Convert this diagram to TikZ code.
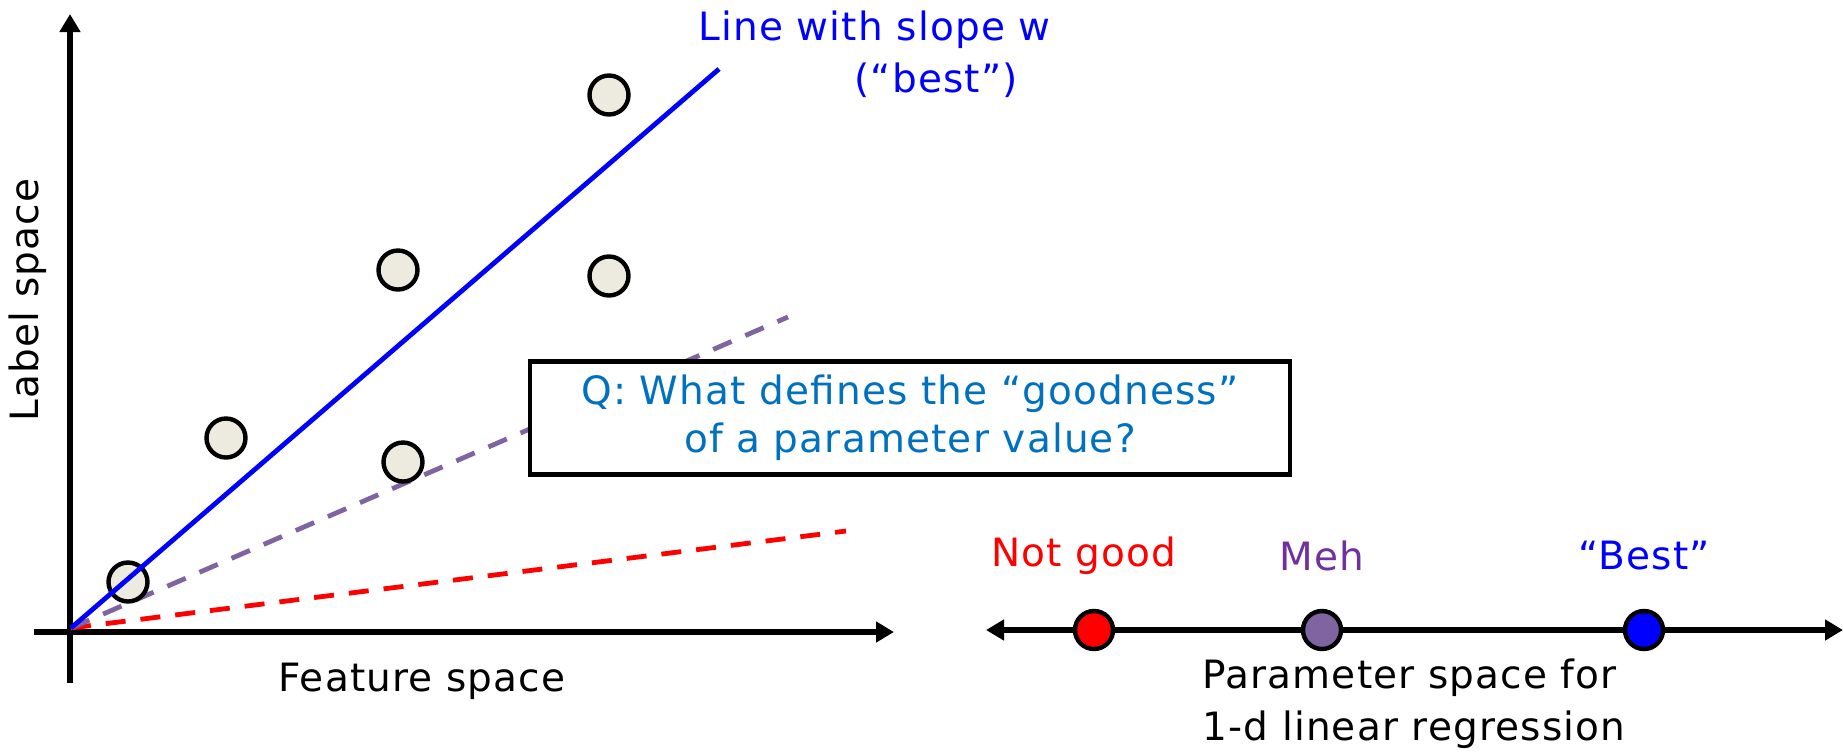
\documentclass[tikz,border=0pt]{standalone}
\usepackage{fontspec}
\setmainfont[LetterSpace=3]{DejaVu Sans}
\usetikzlibrary{arrows.meta}
\definecolor{dotfill}{HTML}{EDEBE0}
\definecolor{mehpurple}{HTML}{8064A2}
\definecolor{mehtext}{HTML}{7030A0}
\definecolor{qblue}{HTML}{0070C0}
\tikzset{
  axis/.style={line width=3pt, -{Triangle[length=9pt,width=10pt]}},
  datapt/.style={circle, draw=black, line width=2.2pt, fill=dotfill, minimum size=19.5pt, inner sep=0pt},
  parampt/.style={circle, draw=black, line width=2.2pt, minimum size=19pt, inner sep=0pt},
  lbl/.style={font=\fontsize{19.5}{23}\selectfont, inner sep=0pt},
  dashline/.style={line width=2.4pt, dash pattern=on 10pt off 7.5pt},
}
\begin{document}
\begin{tikzpicture}[x=0.5pt,y=-0.5pt]
\useasboundingbox (0,0) rectangle (1844,752);
% axes
\coordinate (ybot) at (70,683);
\coordinate (ytop) at (70,14);
\coordinate (xleft) at (34,632);
\coordinate (xright) at (894,632);
\coordinate (o) at (71,628);
\draw[axis] (ybot) -- (ytop);
\draw[axis] (xleft) -- (xright);
% candidate lines
\coordinate (redend) at (846,531);
\coordinate (purend) at (788,317);
\coordinate (blueend) at (719,69);
\draw[dashline, red] (o) -- (redend);
\draw[dashline, mehpurple] (o) -- (purend);
% question box
\node[draw=black, line width=2.2pt, fill=white, minimum width=380pt, minimum height=56.5pt, inner sep=0pt, lbl, text=qblue, align=center] (qbox) at (910,418)
  {Q: What defines the “goodness”\\[1pt]of a parameter value?};
% data points
\node[datapt] (p1) at (128,582) {};
\node[datapt] (p2) at (226,438) {};
\node[datapt] (p3) at (403,462) {};
\node[datapt] (p4) at (398,270) {};
\node[datapt] (p5) at (609,276) {};
\node[datapt] (p6) at (609,95) {};
\draw[blue, line width=2.4pt] (o) -- (blueend);
% title
\node[lbl, text=blue, align=left, anchor=north west] (title) at (698,10)
  {Line with slope w\\[3pt]\hspace*{78pt}(“best”)};
% axis labels
\node[lbl, rotate=90] (ylab) at (28,300) {Label space};
\node[lbl] (xlab) at (422,681) {Feature space};
% parameter space
\coordinate (pl) at (986,630);
\coordinate (pr) at (1843,630);
\draw[line width=3pt, {Triangle[length=9pt,width=10pt]}-{Triangle[length=9pt,width=10pt]}] (pl) -- (pr);
\node[parampt, fill=red] (wbad) at (1094,630) {};
\node[parampt, fill=mehpurple] (wmeh) at (1322,630) {};
\node[parampt, fill=blue] (wbest) at (1644,630) {};
\node[lbl, text=red] (tbad) at (1084,556) {Not good};
\node[lbl, text=mehtext] (tmeh) at (1322,556) {Meh};
\node[lbl, text=blue] (tbest) at (1644,556) {“Best”};
\node[lbl, align=left] (pslab) at (1414,704) {Parameter space for\\[3pt]1-d linear regression};
\end{tikzpicture}
\end{document}
